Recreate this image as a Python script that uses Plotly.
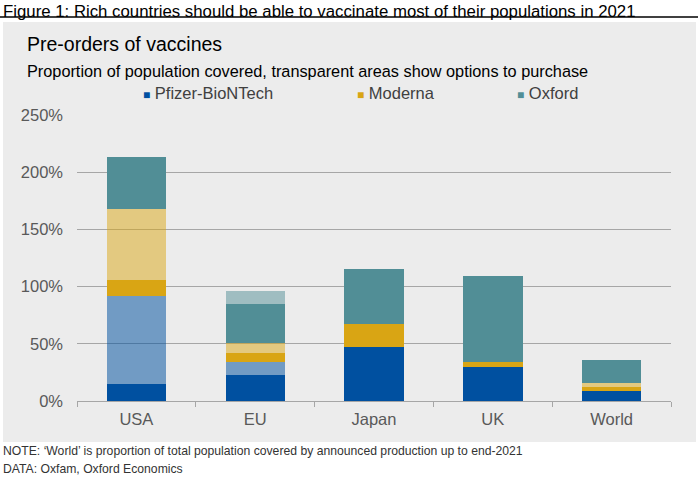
import plotly.graph_objects as go

regions = ["USA", "EU", "Japan", "UK", "World"]

# share of population covered (%), confirmed deals and options to purchase
pfizer = [15, 23, 47, 30, 9]
pfizer_options = [77, 11, 0, 0, 0]
moderna = [14, 8, 20, 4, 3]
moderna_options = [62, 9, 0, 0, 3.5]
oxford = [45, 34, 48, 75, 20]
oxford_options = [0, 11, 0, 0, 0]

y_ticks = [0, 50, 100, 150, 200, 250]

font = "Arial, Liberation Sans, sans-serif"

# options are the same colour, half transparent (the grid shows through)
series = [
    ("Pfizer-BioNTech", pfizer, "#0050A0", 1.0),
    ("Pfizer-BioNTech options", pfizer_options, "#0050A0", 0.52),
    ("Moderna", moderna, "#D9A514", 1.0),
    ("Moderna options", moderna_options, "#D9A514", 0.5),
    ("Oxford", oxford, "#518E96", 1.0),
    ("Oxford options", oxford_options, "#518E96", 0.5),
]
legend_names = ["Pfizer-BioNTech", "Moderna", "Oxford"]
legend_x = [141, 355, 515]

fig = go.Figure()
for name, vals, col, alpha in series:
    fig.add_trace(go.Bar(
        x=regions, y=vals, name=name, marker_color=col, marker_opacity=alpha,
        marker_line_width=0, showlegend=False, width=0.5,
    ))

# legend drawn as a row of labels, as in the source
legend_notes = []
for lx, (name, vals, col, alpha) in zip(legend_x, [s for s in series if s[0] in legend_names]):
    legend_notes.append(dict(
        text=f"<span style='color:{col};font-size:12px'>\u25A0</span> {name}",
        xref="paper", yref="paper", x=lx / 698, y=1 - 93 / 477,
        xanchor="left", yanchor="middle", showarrow=False,
        font=dict(size=16.5, color="#404040"),
    ))

fig.update_layout(
    width=698, height=477,
    barmode="stack",
    margin=dict(l=0, r=0, t=0, b=0, autoexpand=False),
    paper_bgcolor="white",
    plot_bgcolor="rgba(0,0,0,0)",
    font=dict(family=font, size=16.5, color="#595959"),
    showlegend=False,
    xaxis=dict(
        domain=[77 / 698, 671 / 698], showgrid=False,
        showline=True, linecolor="#A6A6A6", linewidth=1,
        ticks="outside", ticklen=5, tickcolor="#A6A6A6",
        tickson="boundaries", ticklabelstandoff=3,
        tickfont=dict(size=16.5, color="#595959"),
    ),
    yaxis=dict(
        domain=[1 - 401 / 477, 1 - 115 / 477], range=[0, 250],
        tickvals=y_ticks, ticktext=[f"{v}%" for v in y_ticks],
        showgrid=True, gridcolor="#A6A6A6", gridwidth=1,
        zeroline=False, ticks="", ticklabelstandoff=13,
        tickfont=dict(size=16.5, color="#595959"),
    ),
    shapes=[
        dict(type="rect", xref="paper", yref="paper", layer="below",
             x0=3 / 698, x1=696 / 698, y0=1 - 442 / 477, y1=1 - 22 / 477,
             fillcolor="#ECECEC", line_width=0),
        dict(type="line", xref="paper", yref="paper",
             x0=0, x1=1, y0=1 - 17 / 477, y1=1 - 17 / 477,
             line=dict(color="#000000", width=1.5)),
    ],
    annotations=[
        dict(text="Figure 1: Rich countries should be able to vaccinate most of their populations in 2021",
             xref="paper", yref="paper", x=1 / 698, y=1, xanchor="left", yanchor="top",
             showarrow=False, font=dict(size=16.8, color="#000000")),
        dict(text="Pre-orders of vaccines",
             xref="paper", yref="paper", x=25 / 698, y=1 - 44 / 477, xanchor="left", yanchor="middle",
             showarrow=False, font=dict(size=19.5, color="#000000")),
        dict(text="Proportion of population covered, transparent areas show options to purchase",
             xref="paper", yref="paper", x=25 / 698, y=1 - 71 / 477, xanchor="left", yanchor="middle",
             showarrow=False, font=dict(size=16.3, color="#000000")),
        dict(text="NOTE: \u2018World\u2019 is proportion of total population covered by announced production up to end-2021",
             xref="paper", yref="paper", x=1 / 698, y=1 - 451 / 477, xanchor="left", yanchor="middle",
             showarrow=False, font=dict(size=12.2, color="#333333")),
        dict(text="DATA: Oxfam, Oxford Economics",
             xref="paper", yref="paper", x=1 / 698, y=1 - 469 / 477, xanchor="left", yanchor="middle",
             showarrow=False, font=dict(size=12.2, color="#333333")),
    ] + legend_notes,
)

fig.write_html("out.html", config={"displayModeBar": False},
               post_script="document.body.style.margin = '0';")
